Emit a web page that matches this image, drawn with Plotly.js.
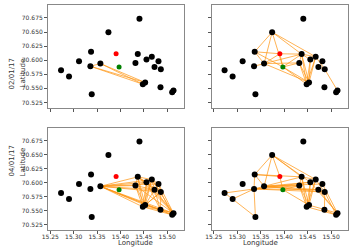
<!DOCTYPE html>
<html>
<head>
<meta charset="utf-8">
<script src="https://cdn.plot.ly/plotly-3.0.1.min.js"></script>
<style>html,body{margin:0;padding:0;background:#fff;}#chart{width:358px;height:249px;}</style>
</head>
<body>
<div id="chart"></div>
<script>
// Node positions (longitude, latitude) and kind: k = black, r = red, g = green
const nodeLon = [15.4407, 15.3743, 15.3371, 15.3907, 15.4371, 15.4671, 15.4557, 15.3114, 15.4814, 15.4321, 15.3571, 15.3357, 15.3971, 15.4729, 15.4864, 15.2729, 15.2900, 15.4529, 15.4479, 15.4857, 15.5136, 15.5107, 15.3386];
const nodeLat = [70.6738, 70.6498, 70.6150, 70.6114, 70.6108, 70.6060, 70.6012, 70.5982, 70.5982, 70.5952, 70.5940, 70.5892, 70.5880, 70.5880, 70.5838, 70.5820, 70.5712, 70.5604, 70.5574, 70.5520, 70.5460, 70.5430, 70.5394];
const nodeKind = ['k','k','k','r','k','k','k','k','k','k','k','k','g','k','k','k','k','k','k','k','k','k','k'];

// Edges per panel (pairs of node indices)
const edgesTL = [[11,10],[10,17],[10,18],[11,17],[11,18],[17,18]];
const edgesTR = [[1,2],[1,10],[1,12],[1,4],[1,5],[2,3],[2,10],[2,12],[11,10],[10,4],[10,9],[10,3],[12,3],[12,4],[12,9],[12,17],[12,18],[10,17],[4,17],[4,18],[4,9],[9,17],[6,17],[6,18],[5,17],[5,18],[5,14],[5,6],[14,20],[4,5],[4,6],[3,4],[13,14],[9,18]];
const edgesBL = [[10,4],[10,5],[10,6],[10,8],[10,9],[10,13],[10,14],[10,17],[10,18],[10,19],[10,20],[10,21],[4,9],[4,6],[4,5],[4,17],[4,18],[4,13],[4,14],[4,20],[5,6],[5,8],[5,13],[5,14],[5,17],[5,18],[5,20],[6,9],[6,17],[6,18],[6,13],[6,20],[6,19],[8,13],[8,14],[8,20],[9,17],[9,18],[9,13],[9,20],[13,14],[13,17],[13,20],[13,19],[14,17],[14,18],[14,21],[14,19],[17,18],[17,20],[17,19],[18,21],[18,19],[19,20],[19,21],[20,21]];
const edgesBR = [[15,16],[15,11],[16,11],[16,22],[11,22],[11,10],[2,11],[2,1],[2,3],[2,10],[2,4],[1,10],[1,3],[1,4],[1,5],[1,6],[3,12],[10,4],[10,9],[10,6],[10,13],[10,14],[10,8],[11,9],[11,13],[11,14],[11,6],[12,9],[12,17],[4,17],[4,18],[4,9],[4,5],[6,17],[6,18],[5,17],[5,14],[5,6],[9,17],[13,14],[14,21],[17,20],[18,21],[19,21],[8,20],[13,20],[6,20],[14,19],[9,18],[5,18]];

const panelEdges = [edgesTL, edgesTR, edgesBL, edgesBR];
const kindColor = {k:'#000000', r:'#ff0000', g:'#008000'};
const kindSize = {k:6, r:5, g:5};

const traces = [];
panelEdges.forEach((edges, p) => {
  const xs = [], ys = [];
  edges.forEach(([a,b]) => { xs.push(nodeLon[a], nodeLon[b], null); ys.push(nodeLat[a], nodeLat[b], null); });
  const xa = p === 0 ? 'x' : 'x' + (p+1);
  const ya = p === 0 ? 'y' : 'y' + (p+1);
  traces.push({type:'scatter', mode:'lines', x:xs, y:ys, xaxis:xa, yaxis:ya, hoverinfo:'skip',
    line:{color:'rgba(255,150,20,0.72)', width:1}, showlegend:false});
  traces.push({type:'scatter', mode:'markers', x:nodeLon, y:nodeLat, xaxis:xa, yaxis:ya,
    marker:{color:nodeKind.map(k=>kindColor[k]), size:nodeKind.map(k=>kindSize[k]), opacity:1, line:{width:0}}, showlegend:false});
});

const W = 358, H = 249;
const xL = [48/W, 184/W], xR = [211.5/W, 348/W];
const yT = [1-107.5/H, 1-5/H], yB = [1-230/H, 1-128/H];
const tickFont = {family:'DejaVu Sans', size:6, color:'#333'};
function xaxis(dom, anchor, labels){
  return {domain:dom, anchor:anchor, range:[15.245,15.536], tickmode:'array',
    tickvals:[15.25,15.30,15.35,15.40,15.45,15.50], ticktext:['15.25','15.30','15.35','15.40','15.45','15.50'],
    showticklabels:labels, ticks:'outside', ticklen:3, tickwidth:1, tickcolor:'#555', ticklabelstandoff:-2,
    showline:true, mirror:true, linecolor:'#888', linewidth:1, showgrid:false, zeroline:false, tickfont:tickFont};
}
function yaxis(dom, anchor, labels){
  return {domain:dom, anchor:anchor, range:[70.516,70.698], tickmode:'array',
    tickvals:[70.525,70.55,70.575,70.6,70.625,70.65,70.675], ticktext:['70.525','70.550','70.575','70.600','70.625','70.650','70.675'],
    showticklabels:labels, ticks:'outside', ticklen:3, tickwidth:1, tickcolor:'#555',
    showline:true, mirror:true, linecolor:'#888', linewidth:1, showgrid:false, zeroline:false, tickfont:tickFont};
}
const lblFont = {family:'DejaVu Sans', size:7, color:'#333'};
const layout = {
  width:W, height:H, margin:{l:0,r:0,t:0,b:0}, paper_bgcolor:'#fff', plot_bgcolor:'#fff', showlegend:false,
  xaxis: xaxis(xL,'y',false), yaxis: yaxis(yT,'x',true),
  xaxis2: xaxis(xR,'y2',false), yaxis2: yaxis(yT,'x2',false),
  xaxis3: xaxis(xL,'y3',true), yaxis3: yaxis(yB,'x3',true),
  xaxis4: xaxis(xR,'y4',true), yaxis4: yaxis(yB,'x4',false),
  annotations:[
    {text:'Latitude', xref:'paper', yref:'paper', x:16/W, y:1-57/H, showarrow:false, textangle:-90, font:lblFont},
    {text:'Latitude', xref:'paper', yref:'paper', x:16/W, y:1-179/H, showarrow:false, textangle:-90, font:lblFont},
    {text:'02/01/17', xref:'paper', yref:'paper', x:5/W, y:1-57/H, showarrow:false, textangle:-90, font:lblFont},
    {text:'04/01/17', xref:'paper', yref:'paper', x:5/W, y:1-179/H, showarrow:false, textangle:-90, font:lblFont},
    {text:'Longitude', xref:'paper', yref:'paper', x:116/W, y:0, yanchor:'bottom', showarrow:false, font:lblFont},
    {text:'Longitude', xref:'paper', yref:'paper', x:280/W, y:0, yanchor:'bottom', showarrow:false, font:lblFont}
  ]
};
Plotly.newPlot('chart', traces, layout, {staticPlot:true, displayModeBar:false});
</script>
</body>
</html>
